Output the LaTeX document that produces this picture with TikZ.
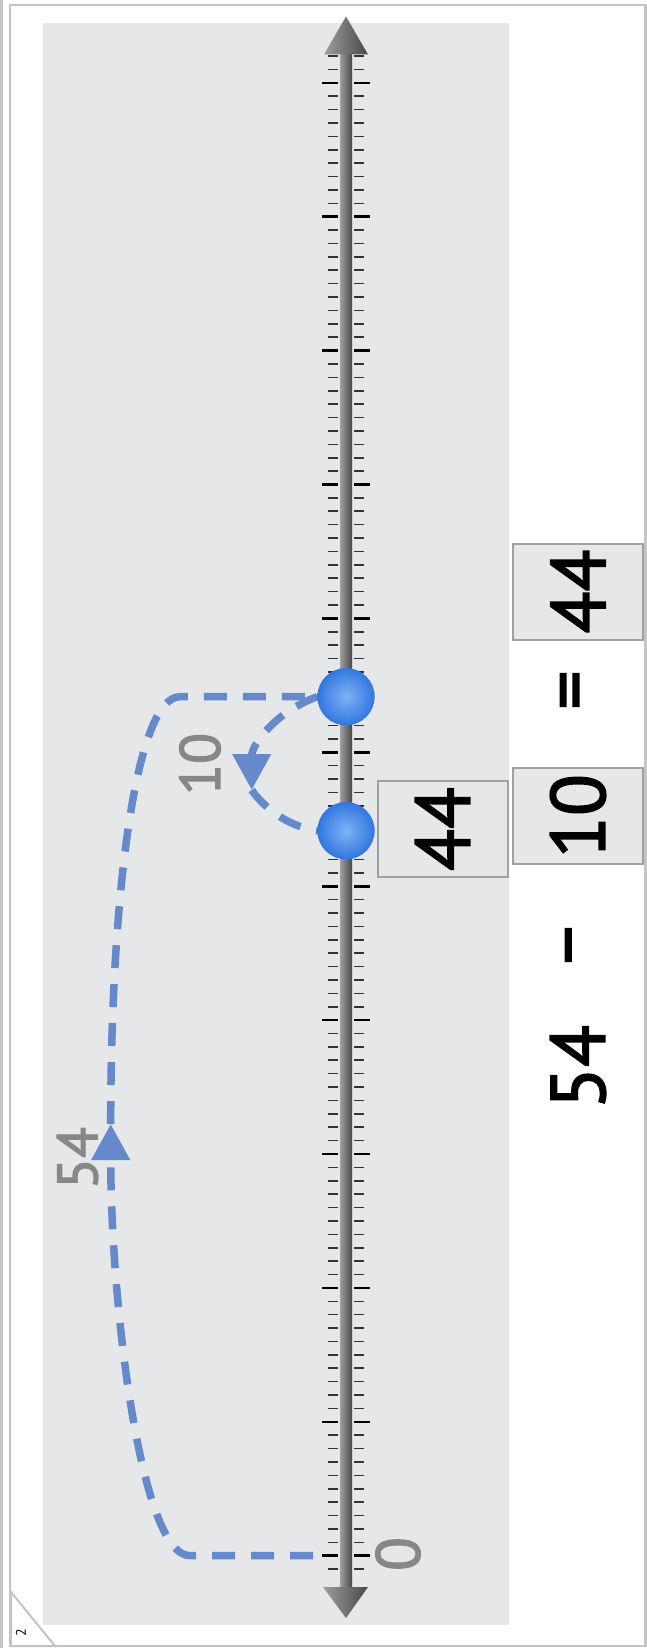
\documentclass[tikz,border=0pt]{standalone}
\usepackage{fontspec}
\setmainfont{PT Sans}
\newfontfamily\numfont{PT Sans}[FakeBold=2]
\usetikzlibrary{arrows.meta,shapes.geometric,calc}
\definecolor{cPanel}{HTML}{E6E7E9}
\definecolor{cFrame}{HTML}{C4C4C4}
\definecolor{cJump}{HTML}{6689CB}
\definecolor{cLabel}{HTML}{878787}
\definecolor{cBoxEdge}{HTML}{A0A0A0}
\definecolor{cDotIn}{HTML}{7DB2F5}
\definecolor{cDotOut}{HTML}{3277E0}
\tikzset{
  jump/.style={draw=cJump, line width=7.5bp, dash pattern=on 23bp off 16bp},
  jumptip/.style={-{Triangle[length=36bp,width=37bp]}},
  numbox/.style={draw=cBoxEdge, fill=cPanel, line width=2bp, rotate=90,
                 minimum width=96bp, minimum height=130bp, inner sep=0pt,
                 font=\numfont\fontsize{77bp}{80bp}\selectfont},
  eqtext/.style={rotate=90, inner sep=0pt, font=\numfont\fontsize{77bp}{80bp}\selectfont},
  jumplabel/.style={rotate=90, inner sep=0pt, text=cLabel, font=\numfont\fontsize{57bp}{60bp}\selectfont},
  ballpt/.style={circle, inner color=cDotIn, outer color=cDotOut, minimum size=57bp, inner sep=0pt},
  minortick/.style={line width=1.6bp, black!80},
  majortick/.style={line width=2.6bp, black},
  axisshade/.style={left color=black!38, right color=black!72},
}
\begin{document}
\begin{tikzpicture}[x=1bp, y=-1bp]
  \useasboundingbox (0,0) rectangle (647,1648);
  % page frame
  \draw[cFrame, line width=2.5bp] (1.5,0) -- (1.5,1648);
  \draw[cFrame, line width=2.5bp] (10,5) rectangle (645.5,1646);
  \fill[cPanel] (43,23) rectangle (509,1625);
  \filldraw[fill=white, draw=cFrame, line width=2bp] (11,1592) -- (55,1646) -- (11,1646) -- cycle;
  \node[rotate=90, inner sep=0pt, font=\fontsize{14bp}{15bp}\selectfont] (page) at (21,1633) {2};

  % number line
  \shade[axisshade] (340,54) rectangle (352,1587);
  \shade[axisshade] (346,16.5) -- (368,54.5) -- (324,54.5) -- cycle;
  \shade[axisshade] (346,1618) -- (368,1587) -- (323,1587) -- cycle;
  \foreach \v in {-1,...,112}
    \draw[minortick] (328,{1555.7-13.39*\v}) -- (338,{1555.7-13.39*\v})
                     (354,{1555.7-13.39*\v}) -- (364,{1555.7-13.39*\v});
  \foreach \v in {0,10,...,110}
    \draw[majortick] (322,{1555.7-13.39*\v}) -- (338,{1555.7-13.39*\v})
                     (354,{1555.7-13.39*\v}) -- (370,{1555.7-13.39*\v});
  \coordinate (zero) at (313,1555.7);
  \node[jumplabel, font=\numfont\fontsize{62bp}{64bp}\selectfont] (lab0) at (398,1554) {0};

  \coordinate (tip54) at (110.7,1124);
  \coordinate (tip10) at (251.7,790);
  \node[ballpt] (dot54) at (346,696.7) {};
  \node[ballpt] (dot44) at (346,830.7) {};

  % jumps
  \draw[jump, jumptip] (zero) -- (190,1555.7) .. controls (140,1555.7) and (110.7,1300) .. (tip54);
  \draw[jump] (tip54) .. controls (110.7,900) and (135,696.7) .. (180,696.7) -- (dot54.west);
  \draw[jump, jumptip] (dot54.west) .. controls (275,712) and (251.7,745) .. (tip10);
  \draw[jump] (tip10) .. controls (262,805) and (285,826) .. (dot44.west);
  \node[ballpt] at (dot54) {};
  \node[ballpt] at (dot44) {};
  \node[jumplabel] (lab54) at (77.5,1158) {54};
  \node[jumplabel] (lab10) at (200,764) {10};

  % equation
  \node[numbox] (res) at (442.5,829) {44};
  \node[eqtext] (eqa) at (578,1067) {54};
  \node[eqtext] (eqm) at (578,945) {–};
  \node[numbox] (eqb) at (578,816) {10};
  \node[eqtext] (eqe) at (578,690) {=};
  \node[numbox] (eqc) at (578,591.5) {44};
\end{tikzpicture}
\end{document}
